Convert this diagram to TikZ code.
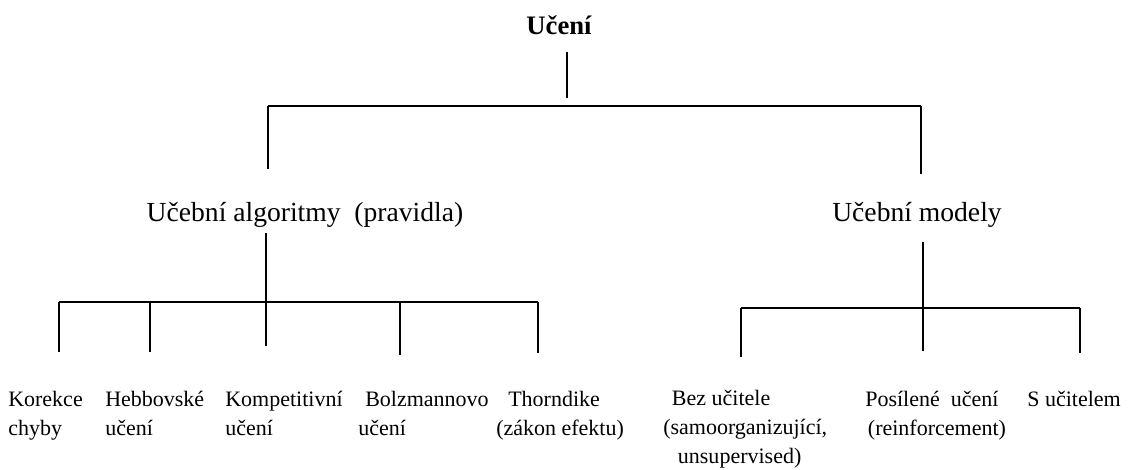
\documentclass[tikz,border=0pt]{standalone}
\usepackage{fontspec}
\setmainfont{Liberation Serif}
\usetikzlibrary{positioning}

\begin{document}
\begin{tikzpicture}[x=0.75pt, y=-0.75pt,
    leaf/.style={font=\fontsize{16.5}{21.4}\selectfont, align=left, anchor=base west, inner sep=0pt},
    group/.style={font=\fontsize{20.7}{24}\selectfont, anchor=base, inner sep=0pt},
    branch/.style={line width=1.5pt},
    stem/.style={line width=1.1pt}]
  \useasboundingbox (0,0) rectangle (1135,470);

  % Root
  \node[font=\fontsize{20}{24}\selectfont\bfseries, anchor=base, inner sep=0pt] (uceni) at (559,35) {Učení};
  \coordinate (R1) at (567,52);
  \coordinate (R2) at (567,98);
  \coordinate (TL) at (268,106);
  \coordinate (TR) at (921,106);
  \coordinate (TLd) at (268,169);
  \coordinate (TRd) at (921,174);

  \draw[stem] (R1) -- (R2);
  \draw[stem] (TL) -- (TR);
  \draw[stem] (TL) -- (TLd) (TR) -- (TRd);

  % Second level
  \node[group] (alg) at (305,222) {Učební algoritmy\ \ (pravidla)};
  \node[group] (mod) at (917,222) {Učební modely};

  % Algorithms
  \coordinate (A0) at (266,233);
  \coordinate (A1) at (59,302);
  \coordinate (A2) at (150,302);
  \coordinate (A3) at (266,302);
  \coordinate (A4) at (400,302);
  \coordinate (A5) at (538,302);
  \draw[stem] (A0) -- (266,346);
  \draw[branch] (A1) -- (A5);
  \draw[branch] (A1) -- +(0,50) (A2) -- +(0,50) (A4) -- +(0,53) (A5) -- +(0,51);

  % Models
  \coordinate (M0) at (923,242);
  \coordinate (M1) at (741,308);
  \coordinate (M2) at (923,308);
  \coordinate (M3) at (1080,308);
  \draw[stem] (M0) -- (923,351);
  \draw[branch] (M1) -- (M3);
  \draw[branch] (M1) -- +(0,49) (M3) -- +(0,45);

  % Leaves (base = last line)
  \node[leaf] (korekce) at (8,435) {Korekce\\chyby};
  \node[leaf] (hebb) at (105,435) {Hebbovské\\učení};
  \node[leaf] (komp) at (225,435) {Kompetitivní\\učení};
  \node[leaf] (bolz) at (365,435) {Bolzmannovo\\\hspace*{-5.25pt}učení};
  \node[leaf] (thorn) at (496,435) {\hspace*{9pt}Thorndike\\(zákon efektu)};
  \node[leaf] (bez) at (663,463) {\hspace*{6.5pt}Bez učitele\\(samoorganizující,\\\hspace*{11pt}unsupervised)};
  \node[leaf] (posil) at (865,435) {Posílené\ \ učení\\\hspace*{2pt}(reinforcement)};
  \node[leaf] (sucit) at (1027,406) {S učitelem};
\end{tikzpicture}
\end{document}
